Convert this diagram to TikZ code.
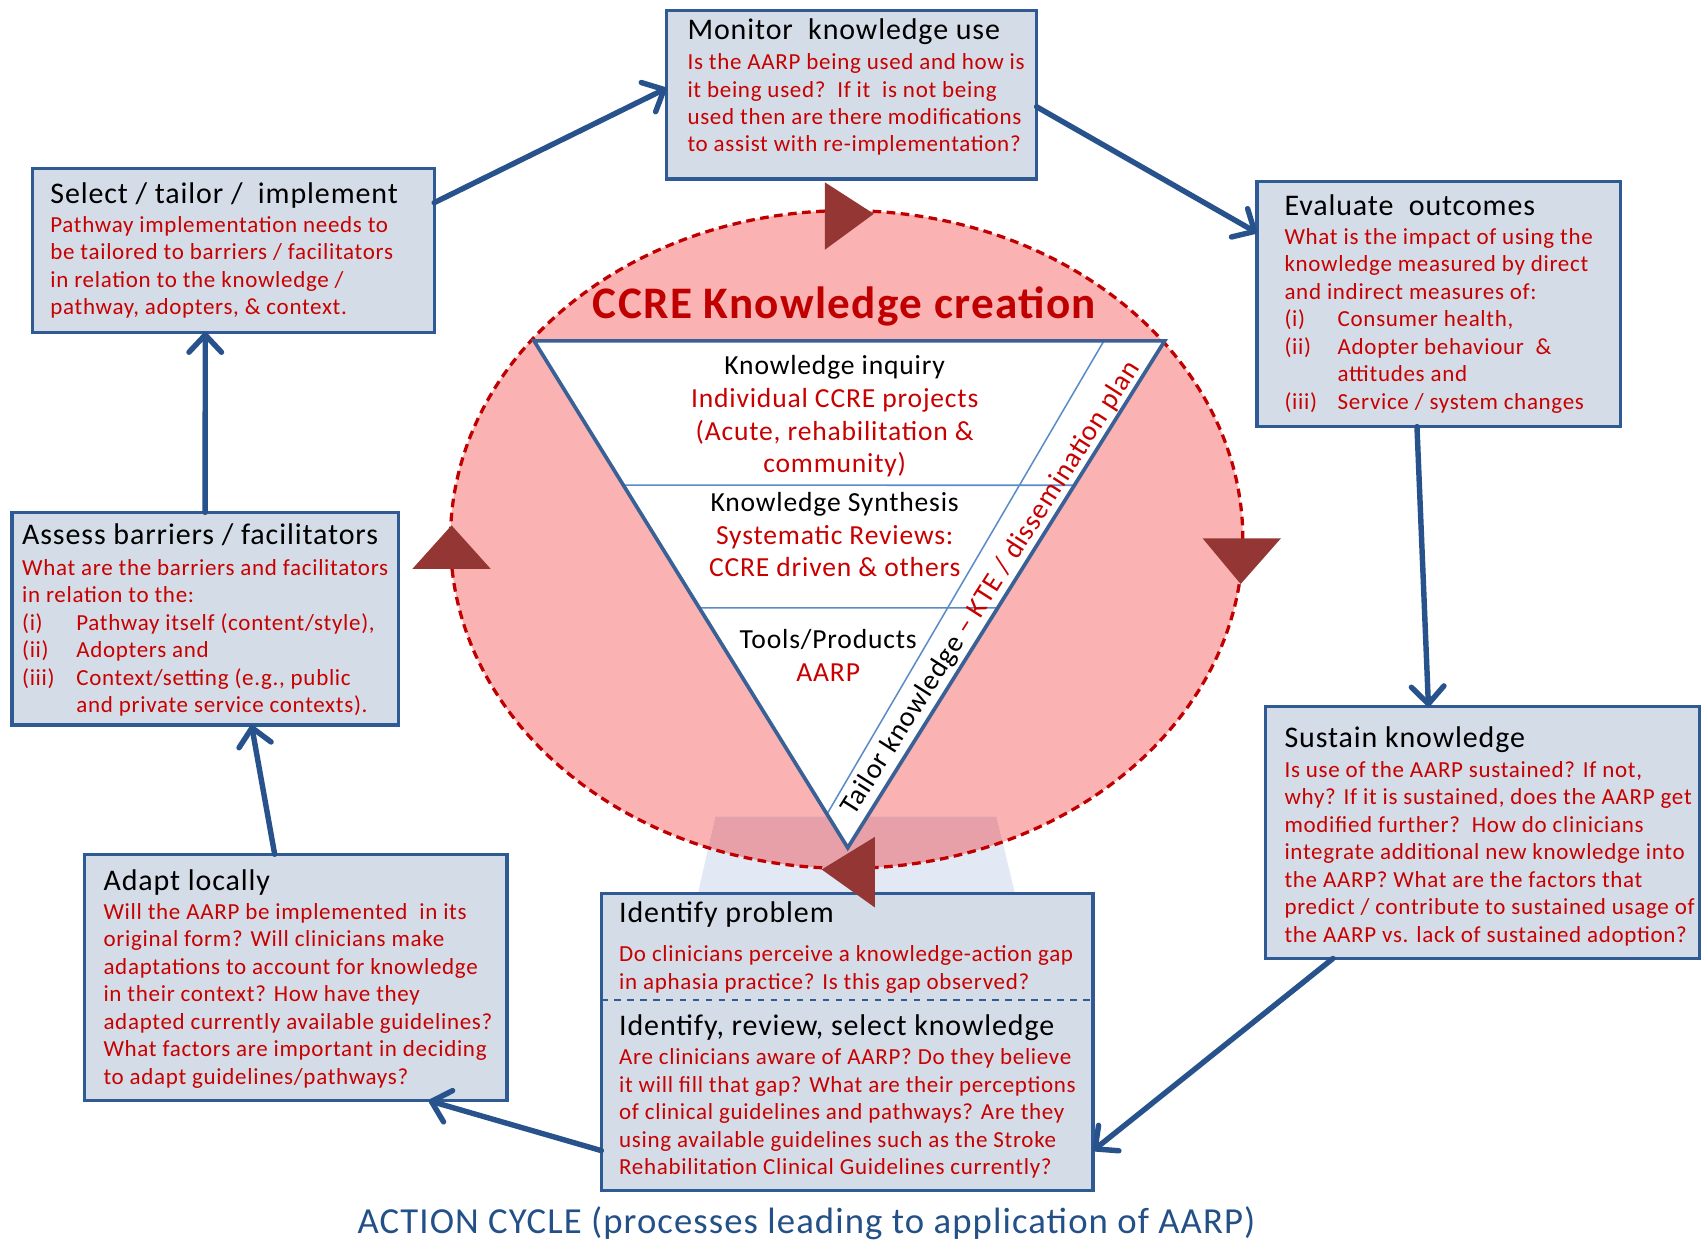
\documentclass[tikz,border=0pt]{standalone}
\usepackage{fontspec}
\setmainfont{Carlito}[LetterSpace=3]
\usetikzlibrary{arrows.meta,calc}
\definecolor{boxfill}{RGB}{211,220,231}
\definecolor{boxline}{RGB}{47,90,148}
\definecolor{arrowblue}{RGB}{40,82,140}
\definecolor{txtred}{RGB}{200,0,0}
\definecolor{pinkfill}{RGB}{250,178,178}
\definecolor{dashred}{RGB}{192,0,0}
\definecolor{darkred}{RGB}{148,54,52}
\definecolor{tribl}{RGB}{58,97,150}
\definecolor{thinbl}{RGB}{91,139,200}
\definecolor{capblue}{RGB}{35,80,135}
\definecolor{veilout}{RGB}{226,232,244}
\definecolor{veilin}{RGB}{232,160,168}
\begin{document}
\begin{tikzpicture}[x=0.5pt,y=-0.5pt,
  stagebox/.style={draw=boxline,line width=1.5pt,fill=boxfill,inner sep=0,outer sep=0},
  titletext/.style={anchor=north west,inner sep=0,align=left,font=\fontsize{13.8}{15.6}\selectfont},
  bodytext/.style={anchor=north west,inner sep=0,align=left,text=txtred,font=\fontsize{10.6}{12.65}\selectfont},
  tritext/.style={anchor=north,inner sep=0,align=center,font=\fontsize{12.7}{15}\selectfont},
  flow/.style={draw=arrowblue,line width=2.5pt,line cap=round,-{Straight Barb[length=8pt,width=15pt,line cap=round,line join=round]}},
  cyclehead/.style={fill=darkred},
]
\useasboundingbox (0,0) rectangle (1568,1142);

% knowledge creation funnel
\fill[pinkfill] (780,497) ellipse [x radius=182.5pt, y radius=151.5pt];
\fill[veilout] (659,752) -- (918,752) -- (935,823) -- (643,823) -- cycle;
\begin{scope}
  \clip (780,497) ellipse [x radius=182.5pt, y radius=151.5pt];
  \fill[veilin] (659,752) -- (918,752) -- (935,823) -- (643,823) -- cycle;
\end{scope}
\draw[dashred,line width=1.5pt,dash pattern=on 4pt off 2.5pt] (780,497) ellipse [x radius=182.5pt, y radius=151.5pt];

\coordinate (tl) at (492,314);
\coordinate (tr) at (1073,314);
\coordinate (tb) at (781,781);
\fill[white] (tl) -- (tr) -- (tb) -- cycle;
\coordinate (h1l) at (intersection of tl--tb and 0,447--10,447);
\coordinate (h1r) at (intersection of tr--tb and 0,447--10,447);
\coordinate (h2l) at (intersection of tl--tb and 0,560--10,560);
\coordinate (h2r) at (intersection of tr--tb and 0,560--10,560);
\coordinate (dtop) at (1017,314);
\coordinate (dbot) at (intersection of tl--tb and 0,750--10,750);
\draw[thinbl,line width=0.7pt] (h1l) -- (h1r) (h2l) -- (h2r) (dtop) -- (dbot);
\draw[tribl,line width=1.7pt,line join=miter] (tl) -- (tr) -- (tb) -- cycle;

\node[text=dashred,inner sep=0,font=\fontsize{20.8}{23}\selectfont\bfseries] (kc) at (778,282) {CCRE Knowledge creation};
\node[tritext] (ki) at (769,324) {\strut Knowledge inquiry\\\textcolor{txtred}{Individual CCRE projects}\\\textcolor{txtred}{(Acute, rehabilitation \&}\\\textcolor{txtred}{community)}};
\node[tritext] (ks) at (769,450) {\strut Knowledge Synthesis\\\textcolor{txtred}{Systematic Reviews:}\\\textcolor{txtred}{CCRE driven \& others}};
\node[tritext] (tp) at (763,576) {\strut Tools/Products\\\textcolor{txtred}{AARP}};
\node[inner sep=0,rotate=57.5,font=\fontsize{13}{15}\selectfont] (tk) at (913,542) {Tailor knowledge \textcolor{txtred}{-- KTE / dissemination plan}};

% stage boxes
\node[stagebox,minimum width=170.5pt,minimum height=77.5pt] (mon) at (784.5,87.5) {};
\node[stagebox,minimum width=185pt,minimum height=75.5pt] (sel) at (215,230.5) {};
\node[stagebox,minimum width=167.5pt,minimum height=113pt] (eva) at (1325.5,280) {};
\node[stagebox,minimum width=178pt,minimum height=98pt] (ass) at (189,570) {};
\node[stagebox,minimum width=200pt,minimum height=116pt] (sus) at (1366,767) {};
\node[stagebox,minimum width=194.5pt,minimum height=113.5pt] (ada) at (272.5,900.5) {};
\node[stagebox,minimum width=226.5pt,minimum height=137pt] (idp) at (780.5,960) {};
\draw[boxline,line width=0.8pt,dashed] (idp.west |- 0,921) -- (idp.east |- 0,921);

\node[titletext] (monT) at (633,14) {\strut Monitor\ \ knowledge use};
\node[bodytext] (monB) at (633,46) {\strut Is the AARP being used and how is\\it being used?\ \ If it\ \ is not being\\used then are there modifications\\to assist with re-implementation?};

\node[titletext] (selT) at (46,165) {\strut Select / tailor /\ \ implement};
\node[bodytext] (selB) at (46,196) {\strut Pathway implementation needs to\\be tailored to barriers / facilitators\\in relation to the knowledge /\\pathway, adopters, \& context.};

\node[titletext] (evaT) at (1183,176) {\strut Evaluate\ \ outcomes};
\node[bodytext] (evaB) at (1183,207) {\strut What is the impact of using the\\knowledge measured by direct\\and indirect measures of:\\\makebox[24.5pt][l]{(i)}Consumer health,\\\makebox[24.5pt][l]{(ii)}Adopter behaviour\ \ \&\\\makebox[24.5pt][l]{}attitudes and\\\makebox[24.5pt][l]{(iii)}Service / system changes};

\node[titletext] (assT) at (20,479) {\strut Assess barriers / facilitators};
\node[bodytext] (assB) at (20,512) {\strut What are the barriers and facilitators\\in relation to the:\\\makebox[25pt][l]{(i)}Pathway itself (content/style),\\\makebox[25pt][l]{(ii)}Adopters and\\\makebox[25pt][l]{(iii)}Context/setting (e.g., public\\\makebox[25pt][l]{}and private service contexts).};

\node[titletext] (susT) at (1183,666) {\strut Sustain knowledge};
\node[bodytext] (susB) at (1183,698) {\strut Is use of the AARP sustained? If not,\\why? If it is sustained, does the AARP get\\modified further?\ \ How do clinicians\\integrate additional new knowledge into\\the AARP? What are the factors that\\predict / contribute to sustained usage of\\the AARP vs. lack of sustained adoption?};

\node[titletext] (adaT) at (95,798) {\strut Adapt locally};
\node[bodytext] (adaB) at (95,829) {\strut Will the AARP be implemented\ \ in its\\original form? Will clinicians make\\adaptations to account for knowledge\\in their context? How have they\\adapted currently available guidelines?\\What factors are important in deciding\\to adapt guidelines/pathways?};

\node[titletext] (idpT) at (570,828) {\strut Identify problem};
\node[bodytext] (idpB) at (570,868) {\strut Do clinicians perceive a knowledge-action gap\\in aphasia practice? Is this gap observed?};
\node[titletext] (irsT) at (570,932) {\strut Identify, review, select knowledge};
\node[bodytext] (irsB) at (570,963) {\strut Are clinicians aware of AARP? Do they believe\\it will fill that gap? What are their perceptions\\of clinical guidelines and pathways? Are they\\using available guidelines such as the Stroke\\Rehabilitation Clinical Guidelines currently?};

% cycle arrowheads around the funnel
\fill[cyclehead] (760,168) -- (760,230) -- (805,197) -- cycle;
\fill[cyclehead] (1108,496) -- (1180,496) -- (1143,538) -- cycle;
\fill[cyclehead] (806,771) -- (806,836) -- (757,801) -- cycle;
\fill[cyclehead] (380,524) -- (452,524) -- (416,484) -- cycle;

% action cycle connectors
\draw[flow] ($(sel.north east)!0.21!(sel.south east)$) -- ($(mon.north west)!0.46!(mon.south west)$);
\draw[flow] ($(mon.north east)!0.57!(mon.south east)$) -- ($(eva.north west)!0.21!(eva.south west)$);
\draw[flow] ($(eva.south west)!0.44!(eva.south east)$) -- ($(sus.north west)!0.375!(sus.north east)$);
\draw[flow] ($(sus.south west)!0.155!(sus.south east)$) -- ($(idp.north east)!0.865!(idp.south east)$);
\draw[flow] ($(idp.north west)!0.865!(idp.south west)$) -- ($(ada.south west)!0.815!(ada.south east)$);
\draw[flow] ($(ada.north west)!0.45!(ada.north east)$) -- ($(ass.south west)!0.62!(ass.south east)$);
\draw[flow] ($(ass.north west)!0.5!(ass.north east)$) -- ($(sel.south west)!0.43!(sel.south east)$);

\node[text=capblue,inner sep=0,font=\fontsize{16.9}{19}\selectfont] (cap) at (743,1127) {ACTION CYCLE (processes leading to application of AARP)};
\end{tikzpicture}
\end{document}
